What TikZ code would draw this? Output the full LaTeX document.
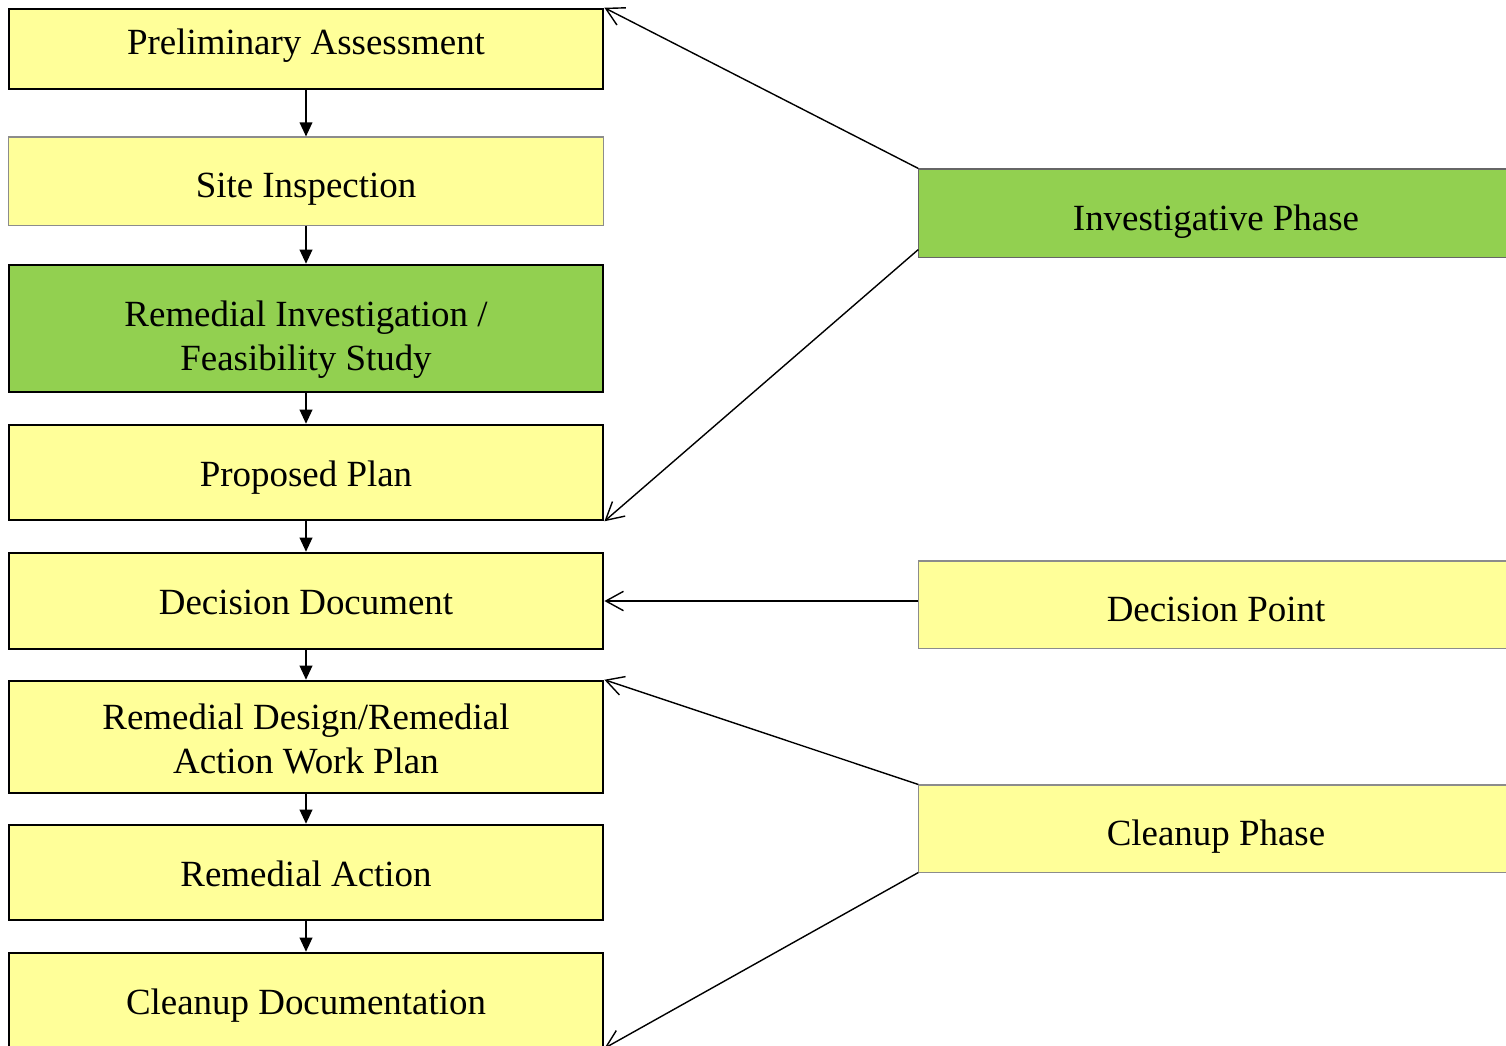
\documentclass[tikz,border=0pt]{standalone}
\usepackage{fontspec}
\setmainfont{Liberation Serif}
\usetikzlibrary{arrows.meta}
\usetikzlibrary{positioning}
\definecolor{paleyellow}{RGB}{255,255,153}
\definecolor{leafgreen}{RGB}{146,208,80}
\tikzset{
  stepbox/.style={rectangle,draw=black,line width=0.7pt,fill=paleyellow,minimum width=5.94cm,inner sep=0pt,align=center,font=\fontsize{10.5}{12.5}\selectfont},
  thinbox/.style={stepbox,draw=black!45,line width=0.3pt},
  txt/.style={text height=#1,text depth=0pt},
  flow/.style={-{Triangle[length=4pt,width=3.6pt]},line width=0.45pt},
  link/.style={-{Straight Barb[length=5pt,width=5.5pt]},line width=0.4pt}
}

\begin{document}
\begin{tikzpicture}[x=0.01cm,y=-0.01cm]
\useasboundingbox (0,0) rectangle (1506,1045);
% steps
\node at (306,49)[stepbox,txt=2.9pt,minimum height=0.8cm](pa){Preliminary Assessment};
\node at (306,181)[thinbox,txt=9.5pt,minimum height=0.88cm](si){Site Inspection};
\node at (306,328.5)[stepbox,txt=23.8pt,fill=leafgreen,minimum height=1.27cm](ri){Remedial Investigation /\\Feasibility Study};
\node at (306,472.5)[stepbox,txt=7.9pt,minimum height=0.95cm](pp){Proposed Plan};
\node at (306,601)[stepbox,txt=7.8pt,minimum height=0.96cm](dd){Decision Document};
\node at (306,737)[stepbox,txt=20.5pt,minimum height=1.12cm](rd){Remedial Design/Remedial\\Action Work Plan};
\node at (306,872.5)[stepbox,txt=7.8pt,minimum height=0.95cm](ra){Remedial Action};
\node at (306,1000)[stepbox,txt=8.5pt,minimum height=0.94cm](cd){Cleanup Documentation};
% phases
\node at (1216,213)[thinbox,txt=9.7pt,draw=black!60,fill=leafgreen,minimum height=0.88cm](ip){Investigative Phase};
\node at (1216,604.5)[thinbox,txt=9.6pt,minimum height=0.87cm](dp){Decision Point};
\node at (1216,828.5)[thinbox,txt=9.6pt,minimum height=0.87cm](cp){Cleanup Phase};
% flow
\draw[flow](pa)--(si);
\draw[flow](si)--(ri);
\draw[flow](ri)--(pp);
\draw[flow](pp)--(dd);
\draw[flow](dd)--(rd);
\draw[flow](rd)--(ra);
\draw[flow](ra)--(cd);
% links
\draw[link](ip.north west)--(pa.north east);
\draw[link]([yshift=0.08cm]ip.south west)--(pp.south east);
\draw[link](dp.west |- dd.east)--(dd.east);
\draw[link](cp.north west)--(rd.north east);
\draw[link](cp.south west)--(cd.south east);
\end{tikzpicture}
\end{document}
